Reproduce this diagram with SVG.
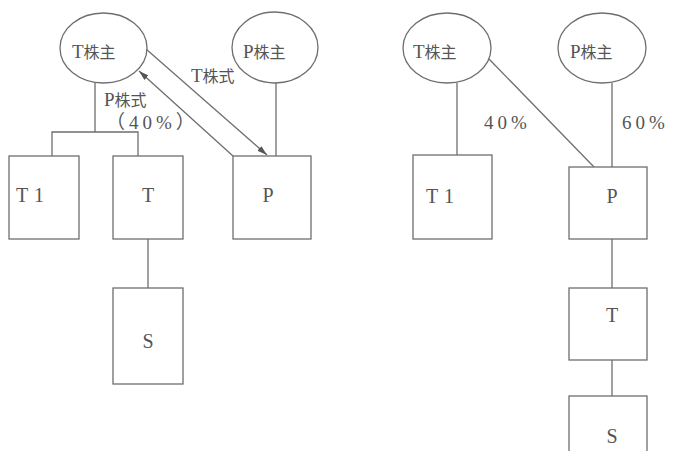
<svg xmlns="http://www.w3.org/2000/svg" width="674" height="451" viewBox="0 0 674 451">
  <style>
    .shape { fill: #fff; stroke: #6e6e6e; stroke-width: 1.3; }
    .link { fill: none; stroke: #6e6e6e; stroke-width: 1.3; }
    .cjk { font-family: "Liberation Serif", "Noto Sans CJK JP", serif; font-size: 16px; fill: #555; }
    .cjk .lat { font-size: 19px; }
    .lbl { font-family: "Liberation Serif", "Noto Sans CJK JP", serif; font-size: 20px; fill: #555; text-anchor: middle; }
    .pct { font-family: "Liberation Serif", "Noto Sans CJK JP", serif; font-size: 19px; fill: #555; letter-spacing: 4px; }
  </style>
  <defs>
    <marker id="arrow" viewBox="0 0 10 6" refX="10" refY="3" markerWidth="10" markerHeight="6" markerUnits="userSpaceOnUse" orient="auto">
      <path d="M0,0 L10,3 L0,6 Z" fill="#555"/>
    </marker>
  </defs>

  <rect width="674" height="451" fill="#fff"/>

  <!-- connectors: before merger -->
  <g id="connectors-left">
    <path class="link" d="M95,83 V132 M52,156 V132 H138 V156"/>
    <line class="link" x1="276" y1="83" x2="276" y2="156"/>
    <line class="link" x1="148" y1="239" x2="148" y2="288"/>
    <line class="link" x1="146" y1="49" x2="267" y2="155" marker-end="url(#arrow)"/>
    <line class="link" x1="233" y1="156" x2="139" y2="71" marker-end="url(#arrow)"/>
  </g>

  <!-- connectors: after merger -->
  <g id="connectors-right">
    <line class="link" x1="457" y1="83" x2="457" y2="155"/>
    <line class="link" x1="489" y1="59" x2="594" y2="167"/>
    <line class="link" x1="612" y1="83" x2="612" y2="167"/>
    <line class="link" x1="612" y1="239" x2="612" y2="288"/>
    <line class="link" x1="612" y1="360" x2="612" y2="396"/>
  </g>

  <!-- connector labels -->
  <g id="labels">
    <text class="cjk" x="191" y="82"><tspan class="lat">T</tspan>株式</text>
    <text class="cjk" x="104" y="106"><tspan class="lat">P</tspan>株式</text>
    <text class="pct" x="106" y="129">（40%）</text>
    <text class="pct" x="484" y="129">40%</text>
    <text class="pct" x="622" y="129">60%</text>
  </g>

  <!-- before merger -->
  <g id="t-holders-l">
    <ellipse class="shape" cx="103.5" cy="48" rx="43.5" ry="35"/>
    <text class="cjk" x="72" y="58"><tspan class="lat">T</tspan>株主</text>
  </g>
  <g id="p-holders-l">
    <ellipse class="shape" cx="275" cy="47.5" rx="43" ry="35.5"/>
    <text class="cjk" x="243" y="58"><tspan class="lat">P</tspan>株主</text>
  </g>
  <g id="t1-l">
    <rect class="shape" x="9" y="156" width="70" height="83"/>
    <text class="lbl" x="33" y="202" letter-spacing="6">T1</text>
  </g>
  <g id="t-l">
    <rect class="shape" x="113" y="156" width="70" height="83"/>
    <text class="lbl" x="148" y="202">T</text>
  </g>
  <g id="p-l">
    <rect class="shape" x="233" y="156" width="78" height="83"/>
    <text class="lbl" x="268" y="202">P</text>
  </g>
  <g id="s-l">
    <rect class="shape" x="113" y="288" width="70" height="96"/>
    <text class="lbl" x="148" y="348">S</text>
  </g>

  <!-- after merger -->
  <g id="t-holders-r">
    <ellipse class="shape" cx="447" cy="48" rx="44" ry="35"/>
    <text class="cjk" x="413" y="58"><tspan class="lat">T</tspan>株主</text>
  </g>
  <g id="p-holders-r">
    <ellipse class="shape" cx="602" cy="48" rx="44" ry="35"/>
    <text class="cjk" x="570" y="58"><tspan class="lat">P</tspan>株主</text>
  </g>
  <g id="t1-r">
    <rect class="shape" x="413" y="155" width="79" height="84"/>
    <text class="lbl" x="443" y="203" letter-spacing="6">T1</text>
  </g>
  <g id="p-r">
    <rect class="shape" x="569" y="167" width="78" height="72"/>
    <text class="lbl" x="612" y="203">P</text>
  </g>
  <g id="t-r">
    <rect class="shape" x="569" y="288" width="78" height="72"/>
    <text class="lbl" x="612" y="322">T</text>
  </g>
  <g id="s-r">
    <rect class="shape" x="569" y="396" width="78" height="62"/>
    <text class="lbl" x="612" y="443">S</text>
  </g>
</svg>
